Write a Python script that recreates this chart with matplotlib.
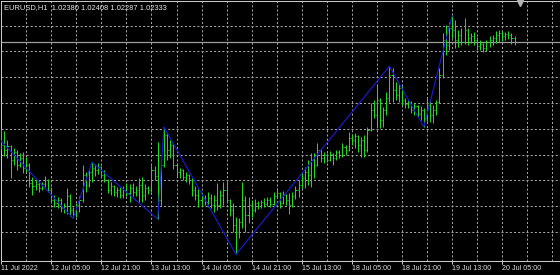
import numpy as np
import matplotlib.pyplot as plt
from matplotlib.transforms import blended_transform_factory

plt.rcParams['font.family'] = ['Liberation Sans', 'DejaVu Sans']
plt.rcParams['lines.scale_dashes'] = False

# EURUSD H1, first bar = 11 Jul 2022 13:00
symbol = 'EURUSD,H1'
tick_labels = ['11 Jul 2022', '12 Jul 05:00', '12 Jul 21:00', '13 Jul 13:00',
               '14 Jul 05:00', '14 Jul 21:00', '15 Jul 13:00', '18 Jul 05:00',
               '18 Jul 21:00', '19 Jul 13:00', '20 Jul 05:00']
tick_bars = [0, 16, 32, 48, 64, 80, 96, 112, 128, 144, 160]

open_ = [1.0109, 1.0096, 1.0089, 1.0094, 1.0076, 1.0086, 1.0069, 1.0078, 1.0065, 1.0069,
         1.0045, 1.0041, 1.0044, 1.0038, 1.0044, 1.0049, 1.0036, 1.0022, 1.0018, 1.0022,
         1.0012, 1.0014, 1.0028, 1.0009, 1.0004, 1.0016, 1.0022, 1.0056, 1.0042, 1.0060,
         1.0065, 1.0062, 1.0066, 1.0056, 1.0049, 1.0036, 1.0041, 1.0033, 1.0036, 1.0029,
         1.0036, 1.0032, 1.0038, 1.0033, 1.0036, 1.0042, 1.0029, 1.0038, 1.0036, 1.0062,
         1.0054, 1.0022, 1.0069, 1.0109, 1.0089, 1.0096, 1.0069, 1.0060, 1.0062, 1.0053,
         1.0056, 1.0049, 1.0036, 1.0029, 1.0022, 1.0025, 1.0020, 1.0025, 1.0016, 1.0022,
         1.0016, 1.0029, 1.0036, 1.0022, 1.0009, 0.9989, 0.9980, 0.9993, 1.0022, 1.0002,
         1.0016, 1.0009, 1.0018, 1.0014, 1.0020, 1.0017, 1.0022, 1.0017, 1.0028, 1.0032,
         1.0018, 1.0029, 1.0022, 1.0016, 1.0028, 1.0036, 1.0042, 1.0052, 1.0060, 1.0056,
         1.0076, 1.0069, 1.0089, 1.0078, 1.0082, 1.0076, 1.0084, 1.0078, 1.0086, 1.0082,
         1.0093, 1.0089, 1.0105, 1.0102, 1.0108, 1.0096, 1.0102, 1.0089, 1.0116, 1.0142,
         1.0136, 1.0156, 1.0129, 1.0142, 1.0158, 1.0189, 1.0169, 1.0162, 1.0172, 1.0156,
         1.0150, 1.0153, 1.0142, 1.0148, 1.0137, 1.0142, 1.0132, 1.0149, 1.0136, 1.0142,
         1.0153, 1.0189, 1.0236, 1.0229, 1.0252, 1.0249, 1.0236, 1.0242, 1.0233, 1.0249,
         1.0238, 1.0241, 1.0236, 1.0228, 1.0230, 1.0225, 1.0233, 1.0236, 1.0238, 1.0242,
         1.0245, 1.0241, 1.0244, 1.0242, 1.02380]
high = [1.0117, 1.0114, 1.0102, 1.0096, 1.0092, 1.0089, 1.0085, 1.0086, 1.0080, 1.0072,
        1.0053, 1.0049, 1.0049, 1.0046, 1.0054, 1.0051, 1.0040, 1.0029, 1.0026, 1.0025,
        1.0018, 1.0038, 1.0030, 1.0013, 1.0018, 1.0028, 1.0069, 1.0060, 1.0065, 1.0073,
        1.0070, 1.0072, 1.0068, 1.0062, 1.0050, 1.0046, 1.0043, 1.0040, 1.0040, 1.0041,
        1.0045, 1.0044, 1.0045, 1.0041, 1.0052, 1.0053, 1.0044, 1.0041, 1.0069, 1.0068,
        1.0100, 1.0076, 1.0120, 1.0112, 1.0102, 1.0097, 1.0072, 1.0065, 1.0064, 1.0060,
        1.0057, 1.0052, 1.0041, 1.0037, 1.0032, 1.0029, 1.0033, 1.0030, 1.0029, 1.0045,
        1.0036, 1.0046, 1.0049, 1.0024, 1.0018, 1.0000, 0.9998, 1.0046, 1.0028, 1.0026,
        1.0022, 1.0024, 1.0021, 1.0022, 1.0025, 1.0026, 1.0026, 1.0033, 1.0038, 1.0033,
        1.0034, 1.0030, 1.0032, 1.0033, 1.0041, 1.0049, 1.0058, 1.0066, 1.0076, 1.0085,
        1.0085, 1.0098, 1.0090, 1.0086, 1.0085, 1.0088, 1.0085, 1.0089, 1.0089, 1.0098,
        1.0096, 1.0113, 1.0110, 1.0112, 1.0109, 1.0106, 1.0109, 1.0120, 1.0152, 1.0156,
        1.0176, 1.0158, 1.0146, 1.0166, 1.0201, 1.0198, 1.0180, 1.0177, 1.0174, 1.0158,
        1.0156, 1.0154, 1.0152, 1.0149, 1.0148, 1.0145, 1.0158, 1.0156, 1.0149, 1.0156,
        1.0198, 1.0245, 1.0256, 1.0260, 1.0268, 1.0262, 1.0249, 1.0252, 1.0265, 1.0252,
        1.0245, 1.0246, 1.0240, 1.0236, 1.0232, 1.0236, 1.0241, 1.0242, 1.0248, 1.0249,
        1.0248, 1.0246, 1.0248, 1.0245, 1.02408]
low = [1.0089, 1.0081, 1.0078, 1.0052, 1.0069, 1.0062, 1.0066, 1.0058, 1.0060, 1.0040,
       1.0029, 1.0036, 1.0033, 1.0036, 1.0040, 1.0033, 1.0018, 1.0013, 1.0012, 1.0006,
       1.0005, 1.0004, 1.0001, 0.9998, 1.0000, 1.0006, 1.0020, 1.0033, 1.0040, 1.0046,
       1.0054, 1.0057, 1.0052, 1.0046, 1.0032, 1.0029, 1.0028, 1.0026, 1.0025, 1.0025,
       1.0028, 1.0020, 1.0028, 1.0028, 1.0020, 1.0020, 1.0022, 1.0030, 1.0033, 1.0049,
       0.9997, 1.0014, 1.0066, 1.0076, 1.0078, 1.0064, 1.0053, 1.0052, 1.0049, 1.0046,
       1.0044, 1.0028, 1.0022, 1.0013, 1.0014, 1.0016, 1.0013, 1.0012, 1.0006, 1.0009,
       1.0012, 1.0016, 1.0018, 1.0001, 0.9980, 0.9950, 0.9972, 0.9985, 0.9980, 0.9992,
       1.0000, 1.0007, 1.0010, 1.0012, 1.0013, 1.0014, 1.0013, 1.0016, 1.0025, 1.0012,
       1.0017, 1.0016, 1.0004, 1.0013, 1.0024, 1.0026, 1.0038, 1.0038, 1.0042, 1.0040,
       1.0052, 1.0068, 1.0073, 1.0072, 1.0073, 1.0074, 1.0069, 1.0076, 1.0078, 1.0080,
       1.0082, 1.0088, 1.0096, 1.0092, 1.0086, 1.0080, 1.0080, 1.0086, 1.0114, 1.0132,
       1.0120, 1.0118, 1.0120, 1.0136, 1.0153, 1.0153, 1.0156, 1.0153, 1.0149, 1.0145,
       1.0145, 1.0138, 1.0136, 1.0133, 1.0129, 1.0120, 1.0125, 1.0126, 1.0125, 1.0136,
       1.0152, 1.0185, 1.0216, 1.0222, 1.0238, 1.0225, 1.0226, 1.0229, 1.0230, 1.0229,
       1.0232, 1.0229, 1.0222, 1.0222, 1.0220, 1.0221, 1.0226, 1.0229, 1.0232, 1.0233,
       1.0234, 1.0236, 1.0237, 1.0230, 1.02287]
close = [1.0096, 1.0089, 1.0094, 1.0076, 1.0086, 1.0069, 1.0078, 1.0065, 1.0069, 1.0045,
         1.0041, 1.0044, 1.0038, 1.0044, 1.0049, 1.0036, 1.0022, 1.0018, 1.0022, 1.0012,
         1.0014, 1.0028, 1.0009, 1.0004, 1.0016, 1.0022, 1.0056, 1.0042, 1.0060, 1.0065,
         1.0062, 1.0066, 1.0056, 1.0049, 1.0036, 1.0041, 1.0033, 1.0036, 1.0029, 1.0036,
         1.0032, 1.0038, 1.0033, 1.0036, 1.0042, 1.0029, 1.0038, 1.0036, 1.0062, 1.0054,
         1.0022, 1.0069, 1.0109, 1.0089, 1.0096, 1.0069, 1.0060, 1.0062, 1.0053, 1.0056,
         1.0049, 1.0036, 1.0029, 1.0022, 1.0025, 1.0020, 1.0025, 1.0016, 1.0022, 1.0016,
         1.0029, 1.0036, 1.0022, 1.0009, 0.9989, 0.9980, 0.9993, 1.0022, 1.0002, 1.0016,
         1.0009, 1.0018, 1.0014, 1.0020, 1.0017, 1.0022, 1.0017, 1.0028, 1.0032, 1.0018,
         1.0029, 1.0022, 1.0016, 1.0028, 1.0036, 1.0042, 1.0052, 1.0060, 1.0056, 1.0076,
         1.0069, 1.0089, 1.0078, 1.0082, 1.0076, 1.0084, 1.0078, 1.0086, 1.0082, 1.0093,
         1.0089, 1.0105, 1.0102, 1.0108, 1.0096, 1.0102, 1.0089, 1.0116, 1.0142, 1.0136,
         1.0156, 1.0129, 1.0142, 1.0158, 1.0189, 1.0169, 1.0162, 1.0172, 1.0156, 1.0150,
         1.0153, 1.0142, 1.0148, 1.0137, 1.0142, 1.0132, 1.0149, 1.0136, 1.0142, 1.0153,
         1.0189, 1.0236, 1.0229, 1.0252, 1.0249, 1.0236, 1.0242, 1.0233, 1.0249, 1.0238,
         1.0241, 1.0236, 1.0228, 1.0230, 1.0225, 1.0233, 1.0236, 1.0238, 1.0242, 1.0245,
         1.0241, 1.0244, 1.0242, 1.0238, 1.02333]

# zigzag swing points (bar index, price), first one lies left of the chart
zz_bar = [-8, 23, 29, 50, 52, 75, 124, 135, 144]
zz_price = [1.0137, 0.9998, 1.0073, 0.9997, 1.0120, 0.9950, 1.0201, 1.0120, 1.0268]

bar_col = '#20e020'
fg = '#c8c8c8'

fig = plt.figure(figsize=(5.6, 2.75), dpi=100, facecolor='black')
ax = fig.add_axes([0.5/560, 14/275, 559.5/560, 260/275])
ax.set_facecolor('black')
ax.set_xlim(-0.22, 178.5)
ax.set_ylim(0.99412, 1.02879)

# dotted grid
for gx in range(8, 179, 8):
    ax.axvline(gx, color='#a4a4a4', lw=0.72, ls=(0, (1.5, 1.5)), zorder=1)
for gy in 0.998 + 0.00344*np.arange(9):
    ax.axhline(gy, color='#a4a4a4', lw=0.72, ls=(0, (1.5, 1.5)), zorder=1)

# bid line
ax.axhline(close[-1], color='#9c9c9c', lw=0.9, zorder=2)

x = np.arange(len(close))
ax.vlines(x, low, high, color=bar_col, lw=0.7, zorder=3)
ax.hlines(open_, x-0.34, x, color=bar_col, lw=0.7, zorder=3)
ax.hlines(close, x, x+0.34, color=bar_col, lw=0.7, zorder=3)

ax.plot(zz_bar, zz_price, color='#1a1ad0', lw=0.85, zorder=4)

# chart shift marker
tr = blended_transform_factory(ax.transData, ax.transAxes)
ax.plot([len(close)+0.8], [0.993], marker='v', ms=4, color='#b4b4b4', mec='#b4b4b4',
        transform=tr, clip_on=False, zorder=5)

ax.set_xticks(tick_bars)
ax.set_xticklabels(tick_labels, fontsize=5.1, color='#e0e0e0')
plt.setp(ax.get_xticklabels(), ha='left')
ax.tick_params(axis='x', direction='out', length=2.3, width=0.72, color=fg, pad=0.8)
ax.tick_params(axis='y', left=False, labelleft=False)

for s in ['left', 'top', 'bottom']:
    ax.spines[s].set_color(fg)
    ax.spines[s].set_linewidth(0.75)
ax.spines['right'].set_visible(False)

header = '%s  %.5f %.5f %.5f %.5f' % (symbol, open_[-1], high[-1], low[-1], close[-1])
fig.text(4/560, 1 - 7.5/275, header, ha='left', va='center', fontsize=5.4, color='#e6e6e6')

fig.savefig('out.png', dpi=100, facecolor='black')
